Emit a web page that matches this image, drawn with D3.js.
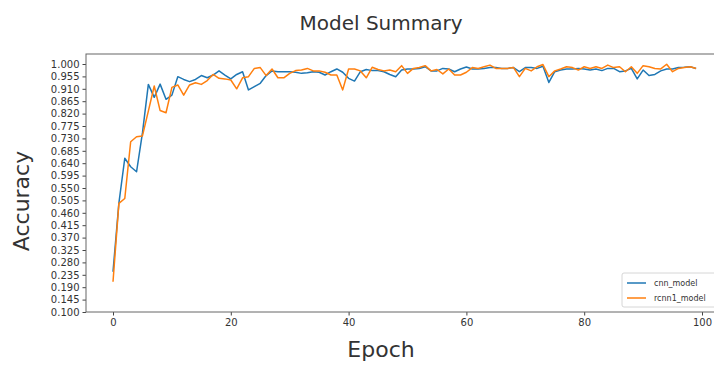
<!DOCTYPE html>
<html>
<head>
<meta charset="utf-8">
<script src="https://cdn.jsdelivr.net/npm/d3@7"></script>
<style>
  body { margin: 0; background: #fff; }
  svg text { font-family: "DejaVu Sans", sans-serif; }
</style>
</head>
<body>
<div id="chartArea"></div>
<script>
// accuracy per epoch
const cnnAcc = [
  0.246, 0.495, 0.658, 0.627, 0.609, 0.750, 0.926, 0.879, 0.927, 0.872,
  0.887, 0.954, 0.944, 0.936, 0.944, 0.958, 0.950, 0.960, 0.975, 0.960,
  0.946, 0.962, 0.972, 0.906, 0.918, 0.930, 0.958, 0.975, 0.972, 0.972,
  0.972, 0.970, 0.966, 0.968, 0.972, 0.970, 0.960, 0.972, 0.982, 0.970,
  0.948, 0.938, 0.972, 0.980, 0.976, 0.976, 0.972, 0.962, 0.954, 0.978,
  0.982, 0.982, 0.984, 0.990, 0.975, 0.975, 0.984, 0.982, 0.972, 0.982,
  0.989, 0.982, 0.982, 0.984, 0.987, 0.987, 0.984, 0.984, 0.987, 0.972,
  0.987, 0.987, 0.984, 0.992, 0.933, 0.972, 0.978, 0.982, 0.982, 0.984,
  0.982, 0.978, 0.982, 0.976, 0.984, 0.984, 0.972, 0.975, 0.984, 0.946,
  0.978, 0.958, 0.962, 0.975, 0.982, 0.982, 0.987, 0.988, 0.990, 0.984
];
const rcnnAcc = [
  0.210, 0.494, 0.512, 0.718, 0.736, 0.739, 0.829, 0.920, 0.831, 0.823,
  0.915, 0.924, 0.887, 0.924, 0.932, 0.926, 0.940, 0.962, 0.948, 0.946,
  0.942, 0.910, 0.950, 0.954, 0.984, 0.987, 0.958, 0.982, 0.950, 0.950,
  0.966, 0.976, 0.978, 0.984, 0.975, 0.975, 0.970, 0.960, 0.960, 0.906,
  0.982, 0.982, 0.975, 0.950, 0.988, 0.980, 0.975, 0.978, 0.972, 0.994,
  0.966, 0.984, 0.987, 0.994, 0.975, 0.980, 0.964, 0.982, 0.960, 0.960,
  0.970, 0.987, 0.984, 0.990, 0.996, 0.984, 0.984, 0.984, 0.987, 0.954,
  0.984, 0.975, 0.990, 0.998, 0.954, 0.975, 0.982, 0.990, 0.987, 0.978,
  0.990, 0.984, 0.990, 0.984, 0.996, 0.987, 0.990, 0.972, 0.990, 0.966,
  0.994, 0.990, 0.984, 0.982, 0.999, 0.972, 0.984, 0.987, 0.990, 0.984
];
const seriesNames = ["cnn_model", "rcnn1_model"];
const seriesColors = ["#1f77b4", "#ff7f0e"];
const xTicks = [0, 20, 40, 60, 80, 100];
const yTicks = d3.range(0, 21).map(i => 0.1 + i * 0.045);

const width = 714, height = 365;
const frame = { left: 86, right: 722, top: 54, bottom: 312 };

const svg = d3.select("#chartArea")
              .append("svg")
              .attr("width", width)
              .attr("height", height);

let x = d3.scaleLinear().domain([0, 100]).range([113, 702]);
let y = d3.scaleLinear().domain([0.1, 1.0]).range([frame.bottom, 64]);

// axes
let yAxis = d3.axisLeft(y).tickValues(yTicks).tickFormat(d3.format(".3f")).tickSize(3.5).tickPadding(3);
let xAxis = d3.axisBottom(x).tickValues(xTicks).tickFormat(d3.format("d")).tickSize(3.5).tickPadding(3);

svg.append("g")
     .attr("transform", `translate(${frame.left},0)`)
     .call(yAxis)
     .call(g => g.select(".domain").remove())
     .call(g => g.selectAll("text").attr("font-size", 10).attr("fill", "#333"))
     .call(g => g.selectAll("line").attr("stroke", "#444"));

svg.append("g")
     .attr("transform", `translate(0,${frame.bottom})`)
     .call(xAxis)
     .call(g => g.select(".domain").remove())
     .call(g => g.selectAll("text").attr("font-size", 10).attr("fill", "#333"))
     .call(g => g.selectAll("line").attr("stroke", "#444"));

svg.append("rect")
     .attr("x", frame.left).attr("y", frame.top)
     .attr("width", frame.right - frame.left)
     .attr("height", frame.bottom - frame.top)
     .attr("fill", "none")
     .attr("stroke", "#666")
     .attr("stroke-width", 1);

// lines
let line = d3.line()
             .x((d, i) => x(i))
             .y(d => y(d));

[cnnAcc, rcnnAcc].forEach(function(data, k) {
  svg.append("path")
       .datum(data)
       .attr("d", line)
       .attr("fill", "none")
       .attr("stroke", seriesColors[k])
       .attr("stroke-width", 1.5)
       .attr("stroke-linejoin", "round");
});

// legend
let legend = svg.append("g").attr("transform", "translate(622,273)");
legend.append("rect")
        .attr("width", 100).attr("height", 34)
        .attr("rx", 2)
        .attr("fill", "#fff")
        .attr("stroke", "#ccc")
        .attr("stroke-width", 0.8);
seriesNames.forEach(function(name, k) {
  let row = legend.append("g").attr("transform", `translate(0,${10 + k * 15})`);
  row.append("line")
       .attr("x1", 5).attr("x2", 24)
       .attr("stroke", seriesColors[k])
       .attr("stroke-width", 1.5);
  row.append("text")
       .attr("x", 32).attr("y", 3)
       .attr("font-size", 8)
       .attr("fill", "#333")
       .text(name);
});

// titles
svg.append("text")
     .attr("x", 381).attr("y", 30)
     .attr("text-anchor", "middle")
     .attr("font-size", 20)
     .attr("fill", "#333")
     .text("Model Summary");

svg.append("text")
     .attr("x", 381).attr("y", 357)
     .attr("text-anchor", "middle")
     .attr("font-size", 22)
     .attr("fill", "#333")
     .text("Epoch");

svg.append("text")
     .attr("transform", "translate(29,201) rotate(-90)")
     .attr("text-anchor", "middle")
     .attr("font-size", 22)
     .attr("fill", "#333")
     .text("Accuracy");
</script>
</body>
</html>
